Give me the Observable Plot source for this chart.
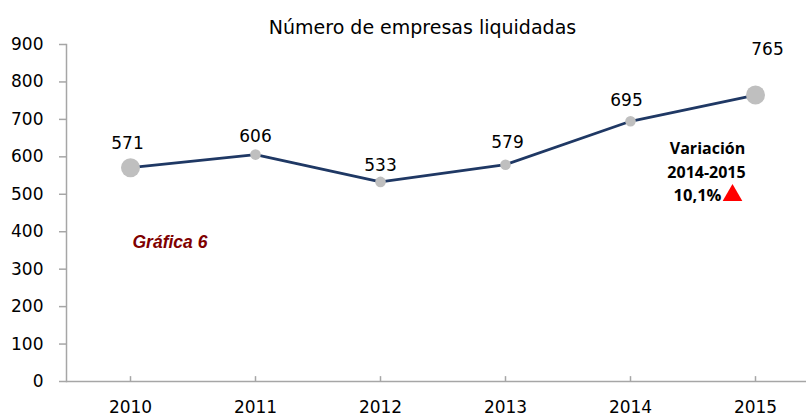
<!DOCTYPE html>
<html>
<head>
<meta charset="utf-8">
<script src="https://cdn.jsdelivr.net/npm/d3@7"></script>
<script src="https://cdn.jsdelivr.net/npm/@observablehq/plot@0.6"></script>
<style>
  html, body { margin: 0; padding: 0; background: #fff; }
  #chart svg { display: block; }
</style>
</head>
<body>
<div id="chart"></div>
<script>
// ---- data ----
const years = ["2010", "2011", "2012", "2013", "2014", "2015"];
const values = [571, 606, 533, 579, 695, 765];
const yTicks = [0, 100, 200, 300, 400, 500, 600, 700, 800, 900];
const title = "Número de empresas liquidadas";
const chartTag = "Gráfica 6";
const variationLines = ["Variación", "2014-2015", "10,1%"];

// ---- layout (label offsets in px) ----
const labelOffset = {
  "2010": [-3, -24], "2011": [0, -18], "2012": [0, -16],
  "2013": [2, -22], "2014": [-4, -21], "2015": [12, -46]
};

const data = years.map((y, i) => ({year: y, value: values[i], big: i === 0 || i === years.length - 1}));
const axisColor = "#A6A6A6";
const font = "'DejaVu Sans', sans-serif";
const annFont = "'Open Sans', sans-serif";

const labelMarks = data.map(d => Plot.text([d], {
  x: "year", y: "value", text: d => String(d.value),
  dx: labelOffset[d.year][0], dy: labelOffset[d.year][1],
  fontSize: 17, fill: "#000"
}));

const chart = Plot.plot({
  width: 806, height: 415,
  marginLeft: 66, marginRight: 0, marginTop: 44, marginBottom: 34,
  style: {fontFamily: font, fontSize: "17px", color: "#000", background: "#fff", overflow: "visible"},
  x: {type: "point", domain: years, range: [128, 756.7], padding: 0, axis: null},
  y: {domain: [0, 900], axis: null},
  marks: [
    Plot.frame({anchor: "left", stroke: axisColor, strokeWidth: 1.5}),
    Plot.ruleY([0], {stroke: axisColor, strokeWidth: 1.5}),
    Plot.axisY({ticks: yTicks, tickSize: 7, tickPadding: 16, stroke: axisColor, strokeWidth: 1.5, fontSize: 17, fill: "#000", label: null, tickFormat: d => String(d)}),
    Plot.ruleX(years, {x: d => d, y1: 0, y2: 13, stroke: axisColor, strokeWidth: 1.5}),
    Plot.axisX({ticks: years, tickSize: 0, tickPadding: 19, fontSize: 17, fill: "#000", label: null}),
    Plot.line(data, {x: "year", y: "value", stroke: "#1F3864", strokeWidth: 2.8}),
    Plot.dot(data.filter(d => !d.big), {x: "year", y: "value", r: 5.3, fill: "#BFBFBF", stroke: "none"}),
    Plot.dot(data.filter(d => d.big), {x: "year", y: "value", r: 9.5, fill: "#BFBFBF", stroke: "none"}),
    ...labelMarks,
    Plot.text([title], {frameAnchor: "top", dx: -14, dy: -24, fontSize: 19, fill: "#000"}),
    Plot.text([chartTag], {x: () => years[0], y: () => 371, dx: 2, textAnchor: "start", fontSize: 17.5, fontWeight: "bold", fontStyle: "italic", fill: "#7F0000", fontFamily: "'Liberation Sans Narrow', 'Liberation Sans', sans-serif"}),
    Plot.text([variationLines[0]], {x: () => years[5], y: () => 622, dx: -48, fontSize: 16, fontWeight: "bold", fill: "#000", fontFamily: annFont}),
    Plot.text([variationLines[1]], {x: () => years[5], y: () => 558, dx: -49, fontSize: 16, fontWeight: "bold", fill: "#000", fontFamily: annFont}),
    Plot.text([variationLines[2]], {x: () => years[5], y: () => 497, dx: -58, fontSize: 16.5, fontWeight: "bold", fill: "#000", fontFamily: annFont}),
    Plot.dot([variationLines[2]], {x: () => years[5], y: () => 497, dx: -23, r: 7.3, symbol: "triangle", fill: "#FF0000", stroke: "none"})
  ]
});
document.getElementById("chart").appendChild(chart);
</script>
</body>
</html>
